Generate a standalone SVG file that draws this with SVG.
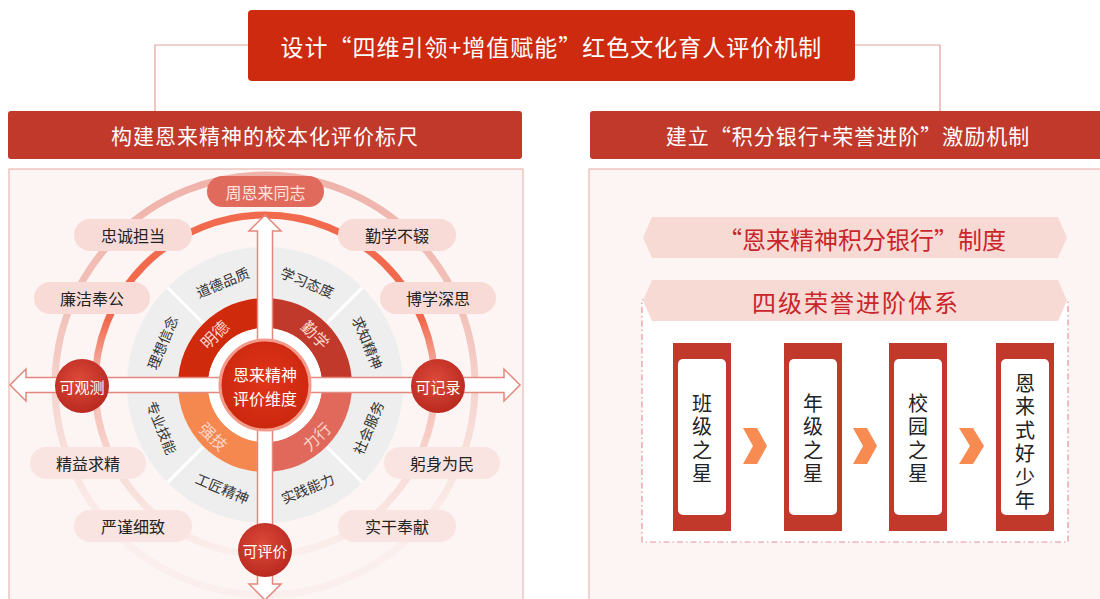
<svg xmlns="http://www.w3.org/2000/svg" width="1100" height="599" viewBox="0 0 1100 599">
<defs>
<style>
text{font-family:"Noto Sans CJK SC","Noto Sans",sans-serif;}
.hdr{fill:#c0392b;}
.hdrt{fill:#fff;font-size:21px;text-anchor:middle;dominant-baseline:central;}
.panel{fill:#fcf5f4;stroke:#e9b6b1;stroke-width:1.2;}
.pill{fill:#f8dbd6;}
.pill2{fill:#f9e4e1;}
.pillt{fill:#222;font-size:16px;text-anchor:middle;dominant-baseline:central;}
.grayt{fill:#333;font-size:14px;text-anchor:middle;dominant-baseline:central;}
.ringt{fill:#fbd6cc;font-size:16px;text-anchor:middle;dominant-baseline:central;}
.bub{fill:url(#bubG);}
.bubt{fill:#fff;font-size:15px;text-anchor:middle;dominant-baseline:central;}
.card{fill:#c0392b;}
.cardin{fill:#fff;}
.cardt{fill:#222;font-size:20px;text-anchor:middle;writing-mode:vertical-rl;letter-spacing:3.5px;}
.chev{fill:#f78b52;}
.ban{fill:#f8dad5;}
.bant{fill:#c9252b;font-size:24px;text-anchor:middle;dominant-baseline:central;}
.conn{fill:none;stroke:#e2a19c;stroke-width:1.2;}
</style>
<linearGradient id="innerArc" gradientUnits="userSpaceOnUse" x1="0" y1="170" x2="0" y2="600">
<stop offset="0" stop-color="#f26a4e"/>
<stop offset="0.35" stop-color="#f26a4e"/>
<stop offset="0.47" stop-color="#f4b4a9"/>
<stop offset="0.7" stop-color="#f8dcd7"/>
<stop offset="0.92" stop-color="#fbf1ef"/>
</linearGradient>
<linearGradient id="outerArc" gradientUnits="userSpaceOnUse" x1="0" y1="170" x2="0" y2="600">
<stop offset="0" stop-color="#efb2a9"/>
<stop offset="0.35" stop-color="#f2c3bb"/>
<stop offset="0.6" stop-color="#f7dcd7"/>
<stop offset="0.85" stop-color="#fbefed"/>
</linearGradient>
<radialGradient id="bubG" cx="0.45" cy="0.4" r="0.65">
<stop offset="0" stop-color="#dc4a3a"/>
<stop offset="1" stop-color="#b7271d"/>
</radialGradient>
<radialGradient id="centerG" cx="0.5" cy="0.45" r="0.6">
<stop offset="0" stop-color="#e0351a"/>
<stop offset="1" stop-color="#c9260e"/>
</radialGradient>
</defs>

<rect width="1100" height="599" fill="#fff"/>

<g id="connectors">
<path class="conn" d="M248,45 H155 V111"/>
<path class="conn" d="M855,45 H940 V111"/>
</g>

<g id="title">
<rect x="248" y="10" width="607" height="71" rx="4" fill="#cd2a10"/>
<text x="551.5" y="46" fill="#fff" font-size="23" text-anchor="middle" dominant-baseline="central" letter-spacing="1">设计“四维引领+增值赋能”红色文化育人评价机制</text>
</g>

<g id="left-header">
<rect class="hdr" x="8" y="111" width="514" height="48" rx="3"/>
<text class="hdrt" x="265" y="135" letter-spacing="1">构建恩来精神的校本化评价标尺</text>
</g>

<g id="right-header">
<rect class="hdr" x="590" y="111" width="515" height="48" rx="3"/>
<text class="hdrt" x="848" y="135" letter-spacing="1">建立“积分银行+荣誉进阶”激励机制</text>
</g>

<g id="left-panel">
<rect class="panel" x="9" y="169" width="514" height="440"/>
<circle cx="265" cy="385" r="210" fill="none" stroke="url(#outerArc)" stroke-width="7"/>
<circle cx="265" cy="385" r="170" fill="none" stroke="url(#innerArc)" stroke-width="7"/>
</g>

<g id="values">
<g id="v1"><rect class="pill" x="74" y="219" width="118" height="32" rx="16"/><text class="pillt" x="133" y="235">忠诚担当</text></g>
<g id="v2"><rect class="pill" x="338" y="219" width="118" height="32" rx="16"/><text class="pillt" x="397" y="235">勤学不辍</text></g>
<g id="v3"><rect class="pill" x="34" y="282" width="116" height="32" rx="16"/><text class="pillt" x="92" y="298">廉洁奉公</text></g>
<g id="v4"><rect class="pill" x="380" y="282" width="116" height="32" rx="16"/><text class="pillt" x="438" y="298">博学深思</text></g>
<g id="v5"><rect class="pill2" x="30" y="447" width="116" height="32" rx="16"/><text class="pillt" x="88" y="463">精益求精</text></g>
<g id="v6"><rect class="pill2" x="384" y="447" width="116" height="32" rx="16"/><text class="pillt" x="442" y="463">躬身为民</text></g>
<g id="v7"><rect class="pill2" x="74" y="510" width="118" height="32" rx="16"/><text class="pillt" x="133" y="526">严谨细致</text></g>
<g id="v8"><rect class="pill2" x="338" y="510" width="118" height="32" rx="16"/><text class="pillt" x="397" y="526">实干奉献</text></g>
</g>

<g id="gray-ring">
<circle cx="265" cy="385" r="112.5" fill="none" stroke="#eeeeee" stroke-width="51"/>
<g stroke="#fff" stroke-width="3">
<line x1="203.5" y1="323.5" x2="167.4" y2="287.4"/>
<line x1="326.5" y1="323.5" x2="362.6" y2="287.4"/>
<line x1="326.5" y1="446.5" x2="362.6" y2="482.6"/>
<line x1="203.5" y1="446.5" x2="167.4" y2="482.6"/>
</g>
<text class="grayt" transform="translate(222.5,282) rotate(-22.5)">道德品质</text>
<text class="grayt" transform="translate(307.5,282) rotate(22.5)">学习态度</text>
<text class="grayt" transform="translate(368,342.5) rotate(67.5)">求知精神</text>
<text class="grayt" transform="translate(368,427.5) rotate(-67.5)">社会服务</text>
<text class="grayt" transform="translate(307.5,488) rotate(-22.5)">实践能力</text>
<text class="grayt" transform="translate(222.5,488) rotate(22.5)">工匠精神</text>
<text class="grayt" transform="translate(162,427.5) rotate(67.5)">专业技能</text>
<text class="grayt" transform="translate(162,342.5) rotate(-67.5)">理想信念</text>
</g>

<g id="color-ring">
<path d="M178,385 A87,87 0 0 1 265,298 L265,328 A57,57 0 0 0 208,385 Z" fill="#d02a0c"/>
<path d="M265,298 A87,87 0 0 1 352,385 L322,385 A57,57 0 0 0 265,328 Z" fill="#c0392b"/>
<path d="M352,385 A87,87 0 0 1 265,472 L265,442 A57,57 0 0 0 322,385 Z" fill="#e0695c"/>
<path d="M265,472 A87,87 0 0 1 178,385 L208,385 A57,57 0 0 0 265,442 Z" fill="#f5884e"/>
<circle cx="265" cy="385" r="57" fill="#fff"/>
<text class="ringt" transform="translate(214,334) rotate(-45)">明德</text>
<text class="ringt" transform="translate(316,334) rotate(45)">勤学</text>
<text class="ringt" transform="translate(316,436) rotate(-45)">力行</text>
<text class="ringt" transform="translate(214,436) rotate(45)">强技</text>
</g>

<g id="arrows">
<path d="M265,215 L281,231 L272.5,231 L272.5,377.5 L504,377.5 L504,369 L520,385 L504,401 L504,392.5 L272.5,392.5 L272.5,584 L281,584 L265,600 L249,584 L257.5,584 L257.5,392.5 L26,392.5 L26,401 L10,385 L26,369 L26,377.5 L257.5,377.5 L257.5,231 L249,231 Z" fill="#fff" stroke="#e4877c" stroke-width="1.5" stroke-linejoin="miter"/>
</g>

<g id="center">
<circle cx="265" cy="385" r="45" fill="url(#centerG)" stroke="#f39a8a" stroke-width="3"/>
<text x="265" y="374" fill="#fff" font-size="16" text-anchor="middle" dominant-baseline="central">恩来精神</text>
<text x="265" y="397.5" fill="#fff" font-size="16" text-anchor="middle" dominant-baseline="central">评价维度</text>
</g>

<g id="top-pill">
<rect x="207" y="176" width="117" height="31" rx="15.5" fill="#e06a5b"/>
<text x="265.5" y="191.5" fill="#fde4df" font-size="16" text-anchor="middle" dominant-baseline="central">周恩来同志</text>
</g>

<g id="b-observe"><circle class="bub" cx="82" cy="386" r="27"/><text class="bubt" x="82" y="386">可观测</text></g>
<g id="b-record"><circle class="bub" cx="438" cy="386" r="27"/><text class="bubt" x="438" y="386">可记录</text></g>
<g id="b-evaluate"><circle class="bub" cx="265" cy="550" r="27"/><text class="bubt" x="265" y="550">可评价</text></g>

<g id="right-panel">
<rect class="panel" x="589" y="169" width="520" height="440"/>
</g>

<g id="banner1">
<path class="ban" d="M643,237.5 L652,217 L1058,217 L1067,237.5 L1058,258 L652,258 Z"/>
<text class="bant" x="862" y="238" font-size="25">“恩来精神积分银行”制度</text>
</g>

<g id="frame">
<rect x="642" y="300" width="426" height="242" fill="#fff" stroke="#e3939a" stroke-width="1.2" stroke-dasharray="6 3 1.5 3"/>
</g>

<g id="banner2">
<path class="ban" d="M643,300.5 L652,280 L1058,280 L1067,300.5 L1058,321 L652,321 Z"/>
<text class="bant" x="856" y="301" letter-spacing="2">四级荣誉进阶体系</text>
</g>

<g id="card1">
<rect class="card" x="673" y="343" width="58" height="188"/>
<rect class="cardin" x="678" y="359" width="48" height="156" rx="5"/>
<text class="cardt" x="702" y="440">班级之星</text>
</g>
<g id="card2">
<rect class="card" x="784" y="343" width="58" height="188"/>
<rect class="cardin" x="789" y="359" width="48" height="156" rx="5"/>
<text class="cardt" x="813" y="440">年级之星</text>
</g>
<g id="card3">
<rect class="card" x="889" y="343" width="58" height="188"/>
<rect class="cardin" x="894" y="359" width="48" height="156" rx="5"/>
<text class="cardt" x="918" y="440">校园之星</text>
</g>
<g id="card4">
<rect class="card" x="996" y="343" width="58" height="188"/>
<rect class="cardin" x="1001" y="359" width="48" height="156" rx="5"/>
<text class="cardt" x="1025" y="443.5">恩来式好少年</text>
</g>

<g id="chevrons">
<path class="chev" d="M743,428 L757,428 L767,446 L757,464 L743,464 L753,446 Z"/>
<path class="chev" d="M853,428 L867,428 L877,446 L867,464 L853,464 L863,446 Z"/>
<path class="chev" d="M959,428 L973,428 L984,446 L973,464 L959,464 L970,446 Z"/>
</g>
</svg>
